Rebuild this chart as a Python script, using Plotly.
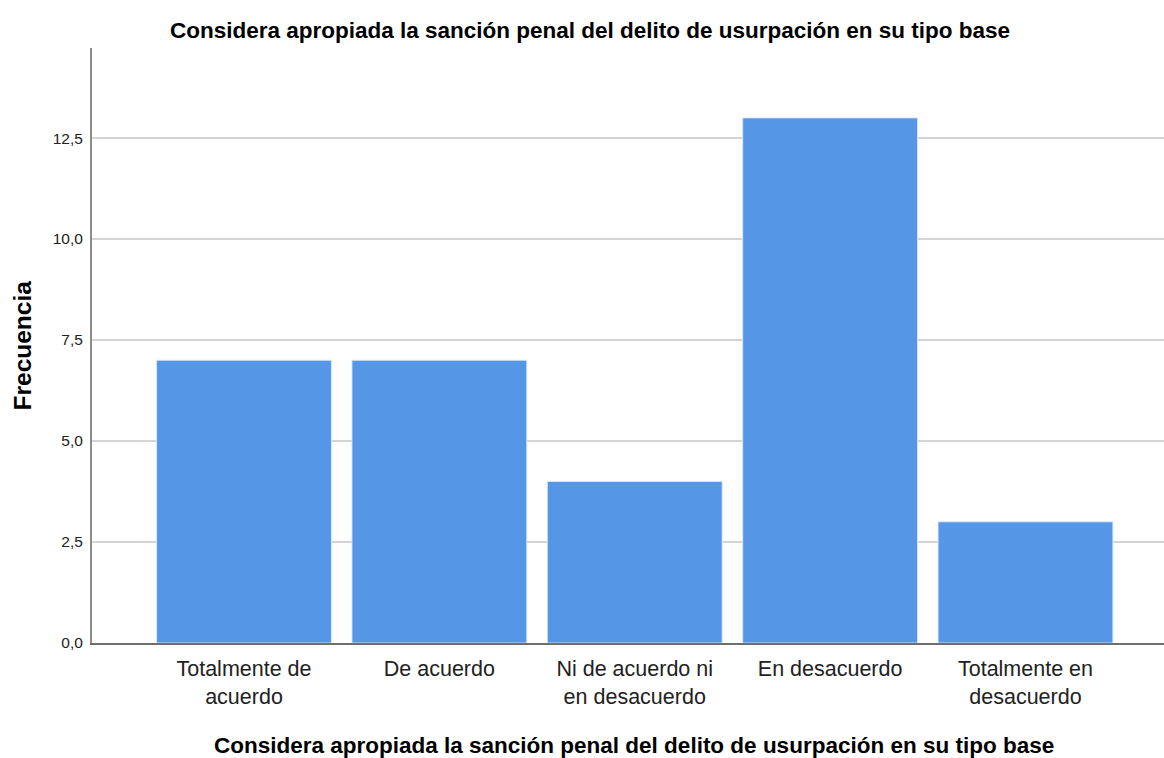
import plotly.graph_objects as go

categories = ["Totalmente de<br>acuerdo", "De acuerdo", "Ni de acuerdo ni<br>en desacuerdo",
              "En desacuerdo", "Totalmente en<br>desacuerdo"]
frecuencia = [7, 7, 4, 13, 3]
y_ticks = [0, 2.5, 5, 7.5, 10, 12.5]
y_ticktext = ["0,0", "2,5", "5,0", "7,5", "10,0", "12,5"]
title_text = "Considera apropiada la sanción penal del delito de usurpación en su tipo base"

W, H = 1164, 758
L, R, T, B = 92, 0, 48, 115

fig = go.Figure()
fig.add_trace(go.Bar(
    x=list(range(len(categories))), y=frecuencia,
    width=0.895,
    marker=dict(color="#5596E6", line=dict(color="rgba(220,235,250,0.9)", width=1)),
))

font_family = "Liberation Sans, Arial, sans-serif"
fig.update_layout(
    width=W, height=H,
    margin=dict(l=L, r=R, t=T, b=B, pad=0),
    plot_bgcolor="white", paper_bgcolor="white",
    showlegend=False,
    font=dict(family=font_family, color="#000000"),
    title=dict(text="<b>" + title_text + "</b>", x=590 / W, xanchor="center",
               xref="container", y=1 - 30 / H, yanchor="middle", yref="container",
               font=dict(size=22.5, family=font_family, color="#000000")),
    xaxis=dict(
        range=[-0.778, 4.709],
        tickmode="array", tickvals=list(range(len(categories))), ticktext=categories,
        tickfont=dict(size=21.5, family=font_family, color="#222222"),
        showgrid=False, zeroline=False,
        showline=True, linecolor="#6e6e6e", linewidth=2,
        ticks="", ticklabelstandoff=5,
    ),
    yaxis=dict(
        range=[0, 14.73],
        tickmode="array", tickvals=y_ticks, ticktext=y_ticktext,
        tickfont=dict(size=15.5, family=font_family, color="#222222"),
        showgrid=True, gridcolor="#d4d4d4", gridwidth=2,
        zeroline=False,
        showline=True, linecolor="#8a8a8a", linewidth=2,
        ticks="", ticklabelstandoff=4,
    ),
    annotations=[
        dict(text="<b>" + title_text + "</b>", xref="paper", yref="paper",
             x=(634 - L) / (W - L - R), y=-(745 - 643) / (643 - T),
             xanchor="center", yanchor="middle", showarrow=False,
             font=dict(size=22.5, family=font_family, color="#000000")),
        dict(text="<b>Frecuencia</b>", xref="paper", yref="paper",
             x=(22 - L) / (W - L - R), y=0.5, textangle=-90,
             xanchor="center", yanchor="middle", showarrow=False,
             font=dict(size=24.5, family=font_family, color="#000000")),
    ],
)

fig.write_html("out.html", config={"displayModeBar": False},
               post_script="document.body.style.margin='0';")
